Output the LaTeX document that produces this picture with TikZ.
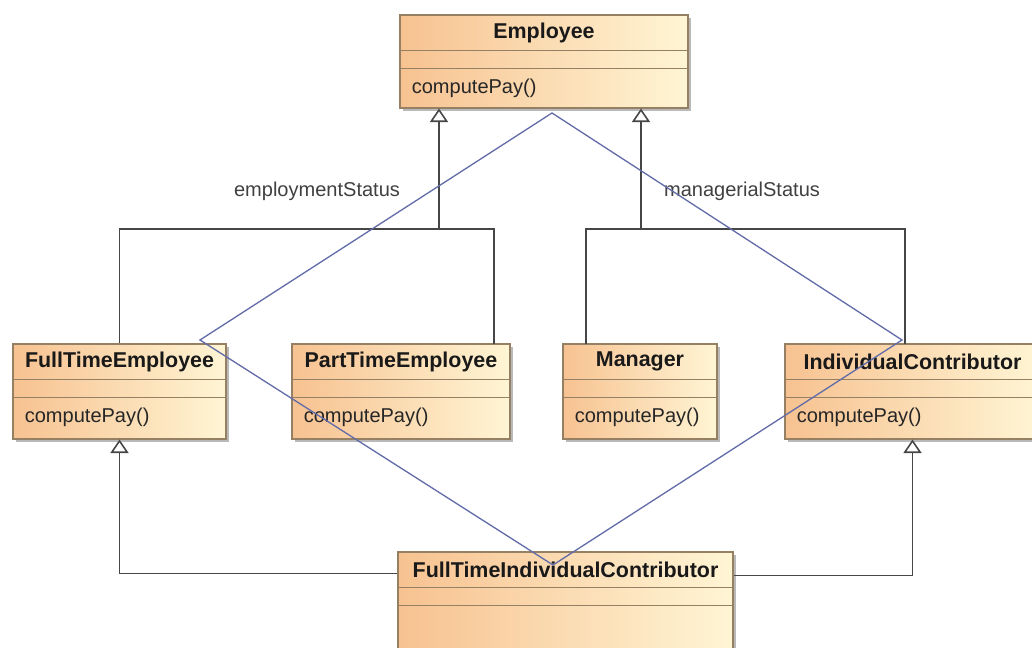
\documentclass[tikz,border=0pt]{standalone}
\usepackage{fontspec}
\setmainfont{Liberation Sans}
\usetikzlibrary{arrows.meta, positioning, fit, calc, shadows}

\definecolor{clsleft}{RGB}{247,194,145}
\definecolor{clsright}{RGB}{255,245,212}
\definecolor{clsline}{RGB}{150,128,100}
\definecolor{linkgray}{RGB}{70,70,70}
\definecolor{diamondblue}{RGB}{98,108,168}

\begin{document}
\begin{tikzpicture}[
    x=0.02cm, y=-0.02cm,
    classbox/.style={rectangle, draw=clsline, line width=0.6pt, inner sep=0pt, left color=clsleft, right color=clsright, drop shadow={shadow xshift=0.06cm, shadow yshift=-0.06cm, fill=black!55, opacity=0.5}},
    classtitle/.style={font=\fontsize{12.2}{14}\selectfont\bfseries, text=black!90, inner sep=0pt},
    operation/.style={font=\fontsize{11.4}{13}\selectfont, text=black!85, anchor=west, inner sep=0pt},
    compart/.style={draw=clsline, line width=0.6pt},
    statuslabel/.style={font=\fontsize{11.4}{13}\selectfont, text=black!75},
    link/.style={draw=linkgray, line width=0.9pt},
    gen/.style={link, {Triangle[open, fill=white, length=0.27cm, width=0.36cm]}-},
    crossline/.style={draw=diamondblue, line width=0.75pt}
]
    \path[use as bounding box, clip] (0,0) rectangle (1032,648);

    % classes
    \foreach \id/\xa/\ya/\xb/\yb/\cname in {emp/400/15/688/108/Employee, fte/13/344/226/439/FullTimeEmployee, pte/292/344/510/439/PartTimeEmployee, mgr/563/344/717/439/Manager, ic/785/344/1040/439/IndividualContributor, ftic/398/552/733/662/FullTimeIndividualContributor}
    {
        \node[classbox, fit={(\xa,\ya) (\xb,\yb)}] (\id) {};
        \node[classtitle] (\id-title) at ($(\id.north)+(0,18)$) {\cname};
        \draw[compart] ($(\id.north west)+(0,36)$) -- ($(\id.north east)+(0,36)$);
        \draw[compart] ($(\id.north west)+(0,54)$) -- ($(\id.north east)+(0,54)$);
    }
    \foreach \id in {emp, fte, pte, mgr, ic}
        \node[operation] (\id-op) at ($(\id.north west)+(12,74)$) {computePay()};

    % generalization sets
    \coordinate (empL) at (439,229);
    \coordinate (empR) at (641,229);
    \coordinate (pteUp) at (494,344);
    \coordinate (mgrUp) at (586,344);
    \coordinate (icUp) at (905,344);

    \draw[gen] (empL |- emp.south) -- (empL);
    \draw[link] (fte.north) |- (empL) -| (pteUp);
    \draw[gen] (empR |- emp.south) -- (empR);
    \draw[link] (mgrUp) |- (empR) -| (icUp);

    \node[statuslabel] (empStatus) at (317,191) {employmentStatus};
    \node[statuslabel] (mgrStatus) at (742,191) {managerialStatus};

    \draw[gen] (fte.south) |- ($(ftic.north west)+(0,22)$);
    \draw[gen] (ic.south) |- ($(ftic.north east)+(0,24)$);

    % diamond
    \coordinate (dTop) at (552,113);
    \coordinate (dLeft) at (200,340);
    \coordinate (dBottom) at (553,565);
    \coordinate (dRight) at (902,340);
    \draw[crossline] (dTop) -- (dLeft) -- (dBottom) -- (dRight) -- cycle;
\end{tikzpicture}
\end{document}
